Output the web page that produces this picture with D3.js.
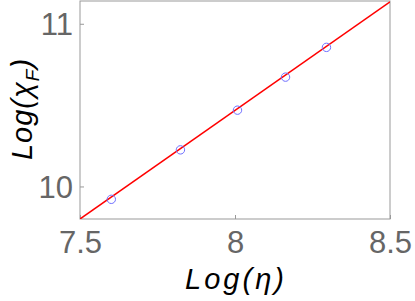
<!DOCTYPE html>
<html>
<head>
<meta charset="utf-8">
<script src="https://cdn.jsdelivr.net/npm/d3@7"></script>
<style>
  body { margin: 0; background: #fff; }
  svg { display: block; font-family: "Liberation Sans", Arial, sans-serif; }
</style>
</head>
<body>
<div id="chart"></div>
<script>
// data
const logEta = [7.601, 7.824, 8.008, 8.163, 8.295];
const logChi = [9.921, 10.225, 10.469, 10.672, 10.855];
const fitSlope = 1.335;
const fitIntercept = -0.2125;
const xTicks = [7.5, 8, 8.5];
const yTicks = [10, 11];
const xTickLabels = ["7.5", "8", "8.5"];
const yTickLabels = ["10", "11"];

const width = 415, height = 301;
const margin = {top: 1, right: 25, bottom: 82, left: 80};
const plotW = width - margin.left - margin.right;
const plotH = height - margin.top - margin.bottom;

const svg = d3.select("#chart")
    .append("svg")
    .attr("width", width)
    .attr("height", height);

const g = svg.append("g")
    .attr("transform", `translate(${margin.left},${margin.top})`);

const x = d3.scaleLinear().domain([7.5, 8.5]).range([0, plotW]);
const y = d3.scaleLinear().domain([9.8, 11.14]).range([plotH, 0]);

// clip for the fit line
g.append("clipPath").attr("id", "clip")
    .append("rect").attr("width", plotW).attr("height", plotH);

// frame
g.append("rect")
    .attr("width", plotW)
    .attr("height", plotH)
    .attr("fill", "none")
    .attr("stroke", "#999")
    .attr("stroke-width", 1);

// axes, ticks inside
const xAxis = g.append("g")
    .attr("transform", `translate(0,${plotH})`)
    .call(d3.axisBottom(x).tickValues(xTicks)
        .tickFormat((d, i) => xTickLabels[i])
        .tickSizeInner(-4).tickSizeOuter(0).tickPadding(12));

const yAxis = g.append("g")
    .call(d3.axisLeft(y).tickValues(yTicks)
        .tickFormat((d, i) => yTickLabels[i])
        .tickSizeInner(-4).tickSizeOuter(0).tickPadding(7));

[xAxis, yAxis].forEach(a => {
    a.select(".domain").remove();
    a.selectAll("line").attr("stroke", "#999");
    a.selectAll("text")
        .attr("fill", "#666")
        .style("font-size", "31px")
        .style("font-family", "Liberation Sans, Arial, sans-serif");
});
xAxis.selectAll("text").attr("dy", "0.72em");
yAxis.selectAll("text").attr("dy", "0.36em");

// fit line
const line = d3.line().x(d => x(d)).y(d => y(fitIntercept + fitSlope * d));
g.append("path")
    .datum(x.domain())
    .attr("d", line)
    .attr("clip-path", "url(#clip)")
    .attr("fill", "none")
    .attr("stroke", "#ff0000")
    .attr("stroke-width", 1.5);

// points
g.selectAll(".pt")
    .data(logEta.map((d, i) => [d, logChi[i]]))
    .enter().append("circle")
    .attr("class", "pt")
    .attr("cx", d => x(d[0]))
    .attr("cy", d => y(d[1]))
    .attr("r", 4.2)
    .attr("fill", "none")
    .attr("stroke", "#6f6fff")
    .attr("stroke-width", 1);

// axis labels
svg.append("text")
    .attr("x", 236)
    .attr("y", 289)
    .attr("text-anchor", "middle")
    .style("font-size", "29px")
    .style("letter-spacing", "3px")
    .style("font-style", "italic")
    .text("Log(η)");

const yl = svg.append("text")
    .attr("transform", "translate(32,109) rotate(-90)")
    .attr("text-anchor", "middle")
    .style("font-size", "29px")
    .style("letter-spacing", "1px")
    .style("font-style", "italic");
yl.append("tspan").text("Log(χ");
yl.append("tspan").attr("dy", 7).style("font-size", "19px").text("F");
yl.append("tspan").attr("dy", -7).text(")");
</script>
</body>
</html>
